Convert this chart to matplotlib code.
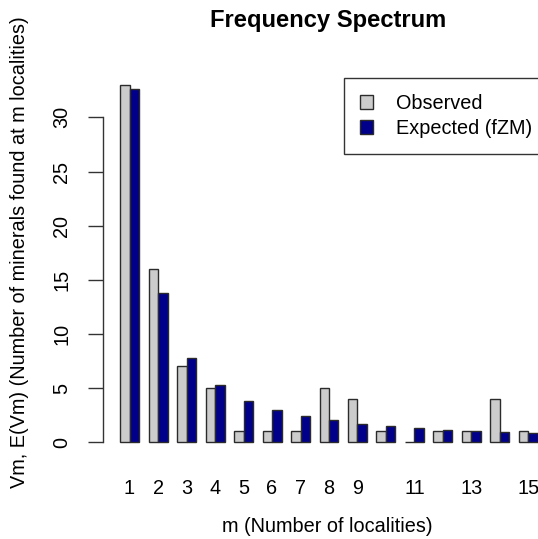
import numpy as np
import matplotlib
matplotlib.use("Agg")
import matplotlib.pyplot as plt
from matplotlib.patches import Patch

plt.rcParams['font.family'] = ['Liberation Sans', 'DejaVu Sans']

m_values = list(range(1, 16))
observed = [33, 16, 7, 5, 1, 1, 1, 5, 4, 1, 0, 1, 1, 4, 1]
expected = [32.6, 13.8, 7.8, 5.25, 3.85, 3.0, 2.4, 2.07, 1.72, 1.5, 1.3, 1.16, 1.07, 0.95, 0.88]
shown_labels = [1, 2, 3, 4, 5, 6, 7, 8, 9, 11, 13, 15]

W, H = 538, 539
fig = plt.figure(figsize=(W / 100, H / 100), dpi=100)

# plot region in pixels, like R's barplot layout
left, right, top, bottom = 103.3, 554.7, 70.6, 456.6
ax = fig.add_axes([left / W, 1 - bottom / H, (right - left) / W, (bottom - top) / H])

# R beside=TRUE positions: group i -> obs [3i-2, 3i-1], exp [3i-1, 3i]
groups = np.array(m_values)
obs_x = 3 * groups - 2
exp_x = 3 * groups - 1
edge = '#2b2b2b'
ax.bar(obs_x, observed, width=1, align='edge', color='#cccccc', edgecolor=edge, linewidth=1)
ax.bar(exp_x, expected, width=1, align='edge', color='#00008b', edgecolor=edge, linewidth=1)

ax.set_xlim(-0.76, 46.76)
ax.set_ylim(-1.32, 34.32)

for s in ['top', 'right', 'bottom']:
    ax.spines[s].set_visible(False)
ax.spines['left'].set_bounds(0, 30)
ax.spines['left'].set_color('#333333')
ax.spines['left'].set_linewidth(1)

fs = 14.3
ax.set_yticks([0, 5, 10, 15, 20, 25, 30])
ax.tick_params(axis='y', length=11, width=1, color='#333333', pad=12, labelsize=fs)
for lab in ax.get_yticklabels():
    lab.set_rotation(90)
    lab.set_va('center')

ax.set_xticks([3 * m - 1 for m in shown_labels])
ax.set_xticklabels([str(m) for m in shown_labels])
ax.tick_params(axis='x', length=0, pad=16, labelsize=fs)

leg = fig.legend(handles=[Patch(facecolor='#cccccc', edgecolor=edge, label='Observed'),
                          Patch(facecolor='#00008b', edgecolor=edge, label='Expected (fZM)')],
                 loc='upper left', bbox_to_anchor=(344 / W, 1 - 78 / H),
                 fontsize=fs, frameon=True, fancybox=False, edgecolor='black',
                 handlelength=0.68, handleheight=0.68, handletextpad=1.12,
                 borderpad=0.8, labelspacing=0.3, borderaxespad=0)
leg.get_frame().set_linewidth(1)

fig.text(328 / W, 1 - 21 / H, 'Frequency Spectrum', ha='center', va='center',
         fontsize=17.1, fontweight='bold')
fig.text(327.5 / W, 1 - 527 / H, 'm (Number of localities)', ha='center', va='center',
         fontsize=fs)
fig.text(20 / W, 1 - 252 / H, 'Vm, E(Vm) (Number of minerals found at m localities)',
         ha='center', va='center', rotation=90, fontsize=fs)

fig.savefig('out.png', dpi=100)
